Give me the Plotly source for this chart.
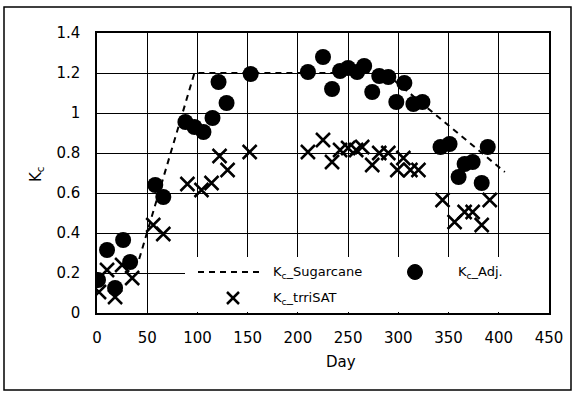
import plotly.graph_objects as go

# ---- data ----
sug_day = [42, 97, 287, 406]
sug_kc = [0.27, 1.2, 1.2, 0.705]

adj_day = [1, 10, 18, 26, 33, 58, 66, 88, 97, 106, 115, 121, 129, 153,
           210, 225, 234, 242, 250, 259, 266, 274, 281, 290, 298, 306, 315, 324,
           342, 351, 360, 366, 374, 383, 389]
adj_kc = [0.165, 0.315, 0.125, 0.365, 0.255, 0.64, 0.58, 0.955, 0.93, 0.905, 0.975, 1.155, 1.05, 1.195,
          1.205, 1.28, 1.12, 1.21, 1.225, 1.205, 1.235, 1.105, 1.185, 1.18, 1.055, 1.15, 1.045, 1.055,
          0.83, 0.845, 0.68, 0.745, 0.755, 0.65, 0.83]

sat_day = [2, 10, 18, 25, 35, 56, 66, 90, 104, 114, 122, 130, 152,
           210, 225, 234, 242, 250, 258, 264, 274, 281, 290, 299, 305, 312, 320,
           344, 356, 366, 374, 383, 391]
sat_kc = [0.105, 0.215, 0.08, 0.24, 0.175, 0.44, 0.395, 0.645, 0.615, 0.65, 0.785, 0.715, 0.805,
          0.805, 0.865, 0.755, 0.815, 0.825, 0.815, 0.83, 0.74, 0.80, 0.80, 0.715, 0.775, 0.715, 0.715,
          0.565, 0.455, 0.505, 0.505, 0.44, 0.565]

x_ticks = [0, 50, 100, 150, 200, 250, 300, 350, 400, 450]
y_ticks = [0, 0.2, 0.4, 0.6, 0.8, 1, 1.2, 1.4]
y_tick_text = ["0", "0.2", "0.4", "0.6", "0.8", "1", "1.2", "1.4"]

# ---- layout geometry (pixels) ----
W, H = 574, 393
L, R, T, B = 97, 25, 33, 80
PW, PH = W - L - R, H - T - B


def px(x):
    return (x - L) / PW


def py(y):
    return (H - B - y) / PH


FONT = "DejaVu Sans"

fig = go.Figure()
fig.add_trace(go.Scatter(x=sug_day, y=sug_kc, mode="lines",
                         line=dict(color="black", width=2, dash="6px,5px"),
                         showlegend=False))
fig.add_trace(go.Scatter(x=adj_day, y=adj_kc, mode="markers",
                         marker=dict(color="black", size=16, symbol="circle"),
                         showlegend=False))
fig.add_trace(go.Scatter(x=sat_day, y=sat_kc, mode="markers",
                         marker=dict(color="black", size=14, symbol="x-thin",
                                     line=dict(color="black", width=2.5)),
                         showlegend=False))

shapes = []
# legend background
shapes.append(dict(type="rect", xref="paper", yref="paper",
                   x0=px(185), x1=px(549), y0=py(312), y1=py(257),
                   fillcolor="white", line=dict(width=0), layer="above"))
# legend: dashed line
shapes.append(dict(type="line", xref="paper", yref="paper",
                   x0=px(198), x1=px(263), y0=py(272), y1=py(272),
                   line=dict(color="black", width=2, dash="6px,5px"), layer="above"))
# legend: dot
shapes.append(dict(type="circle", xref="paper", yref="paper",
                   x0=px(407.5), x1=px(422.5), y0=py(279.5), y1=py(264.5),
                   fillcolor="black", line=dict(color="black", width=1), layer="above"))
# legend: cross
shapes.append(dict(type="line", xref="paper", yref="paper",
                   x0=px(227), x1=px(239), y0=py(292), y1=py(304),
                   line=dict(color="black", width=2.5), layer="above"))
shapes.append(dict(type="line", xref="paper", yref="paper",
                   x0=px(227), x1=px(239), y0=py(304), y1=py(292),
                   line=dict(color="black", width=2.5), layer="above"))
# outer frame
shapes.append(dict(type="rect", xref="paper", yref="paper",
                   x0=px(4), x1=px(571), y0=py(390), y1=py(7),
                   line=dict(color="black", width=1.5), layer="above"))

annotations = [
    dict(text="K<sub>c</sub>_Sugarcane", x=px(271), y=py(272), xref="paper", yref="paper",
         xanchor="left", yanchor="middle", showarrow=False, font=dict(family=FONT, size=13, color="black")),
    dict(text="K<sub>c</sub>_Adj.", x=px(456), y=py(272), xref="paper", yref="paper",
         xanchor="left", yanchor="middle", showarrow=False, font=dict(family=FONT, size=13, color="black")),
    dict(text="K<sub>c</sub>_trriSAT", x=px(271), y=py(298), xref="paper", yref="paper",
         xanchor="left", yanchor="middle", showarrow=False, font=dict(family=FONT, size=13, color="black")),
    dict(text="Day", x=px(341), y=py(362), xref="paper", yref="paper",
         xanchor="center", yanchor="middle", showarrow=False, font=dict(family=FONT, size=15, color="black")),
    dict(text="K<sub>c</sub>", x=px(36), y=py(174), xref="paper", yref="paper", textangle=-90,
         xanchor="center", yanchor="middle", showarrow=False, font=dict(family=FONT, size=15, color="black")),
]

fig.update_layout(
    width=W, height=H,
    margin=dict(l=L, r=R, t=T, b=B, pad=0),
    paper_bgcolor="white", plot_bgcolor="white",
    showlegend=False,
    font=dict(family=FONT, size=15, color="black"),
    shapes=shapes, annotations=annotations,
    xaxis=dict(range=[0, 450], tickvals=x_ticks, showgrid=True, gridcolor="black", gridwidth=1.2,
               showline=True, linecolor="black", linewidth=1.5, mirror=True, zeroline=False,
               ticks="", ticklabelstandoff=10, tickfont=dict(family=FONT, size=15, color="black")),
    yaxis=dict(range=[0, 1.4], tickvals=y_ticks, ticktext=y_tick_text, showgrid=True,
               gridcolor="black", gridwidth=1.2,
               showline=True, linecolor="black", linewidth=1.5, mirror=True, zeroline=False,
               ticks="", ticklabelstandoff=12, tickfont=dict(family=FONT, size=15, color="black")),
)

fig.write_html("out.html")
